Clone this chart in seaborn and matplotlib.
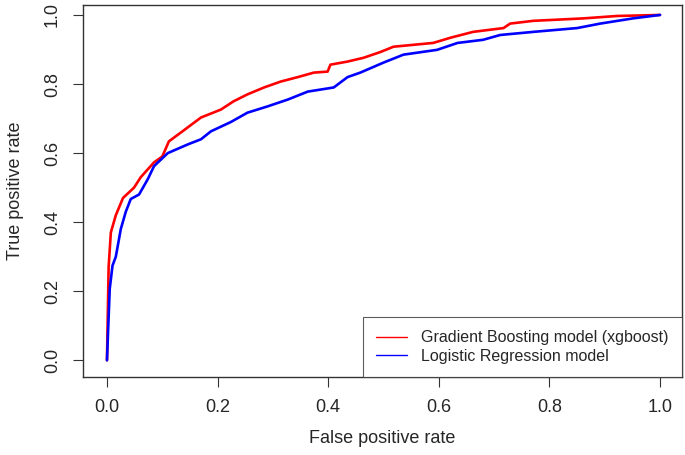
import pandas as pd
import matplotlib
matplotlib.use("Agg")
import matplotlib.pyplot as plt
import seaborn as sns

# ROC points
gb_fpr = [0.0, 0.003, 0.007, 0.016, 0.029, 0.049, 0.061, 0.085, 0.100, 0.112, 0.134, 0.170,
          0.206, 0.229, 0.254, 0.284, 0.314, 0.345, 0.374, 0.399, 0.404, 0.435, 0.464, 0.495,
          0.518, 0.590, 0.621, 0.662, 0.717, 0.729, 0.771, 0.861, 0.922, 1.0]
gb_tpr = [0.0, 0.27, 0.37, 0.42, 0.47, 0.50, 0.53, 0.573, 0.59, 0.634, 0.66, 0.703,
          0.726, 0.75, 0.77, 0.79, 0.807, 0.82, 0.833, 0.836, 0.856, 0.865, 0.876, 0.893,
          0.908, 0.919, 0.934, 0.951, 0.962, 0.975, 0.983, 0.99, 0.997, 1.0]

lr_fpr = [0.0, 0.005, 0.010, 0.016, 0.025, 0.034, 0.043, 0.058, 0.074, 0.085, 0.110, 0.146,
          0.170, 0.188, 0.224, 0.254, 0.290, 0.327, 0.363, 0.410, 0.435, 0.458, 0.500, 0.536,
          0.597, 0.634, 0.680, 0.711, 0.771, 0.850, 0.892, 0.951, 1.0]
lr_tpr = [0.0, 0.207, 0.274, 0.30, 0.38, 0.43, 0.467, 0.48, 0.525, 0.562, 0.60, 0.625,
          0.64, 0.663, 0.69, 0.717, 0.735, 0.755, 0.778, 0.79, 0.82, 0.833, 0.862, 0.885,
          0.899, 0.919, 0.928, 0.942, 0.951, 0.962, 0.975, 0.99, 1.0]

models = ["Gradient Boosting model (xgboost)", "Logistic Regression model"]
ticks = [0.0, 0.2, 0.4, 0.6, 0.8, 1.0]

df = pd.concat([
    pd.DataFrame({"fpr": gb_fpr, "tpr": gb_tpr, "model": models[0]}),
    pd.DataFrame({"fpr": lr_fpr, "tpr": lr_tpr, "model": models[1]}),
])

sns.set_style("white")
plt.rcParams["font.family"] = ["Liberation Sans", "DejaVu Sans"]

fig = plt.figure(figsize=(6.85, 4.55), dpi=100)
ax = fig.add_axes([0.1212, 0.171, 0.8744, 0.818])

sns.lineplot(data=df, x="fpr", y="tpr", hue="model", palette=["red", "blue"],
             estimator=None, sort=False, linewidth=1.9, ax=ax)

ax.set_xlim(-0.0433, 1.0397)
ax.set_ylim(-0.049, 1.0288)
ax.set_xticks(ticks)
ax.set_yticks(ticks)
ax.set_xticklabels([f"{t:.1f}" for t in ticks], fontsize=13)
ax.set_yticklabels([f"{t:.1f}" for t in ticks], fontsize=13, rotation=90, va="center")
ax.tick_params(direction="out", length=7, width=0.8, color="#333333", bottom=True, left=True)
ax.tick_params(axis="x", pad=9)
ax.tick_params(axis="y", pad=9)
for s in ax.spines.values():
    s.set_color("#333333")
    s.set_linewidth(1.0)
ax.set_xlabel("False positive rate", fontsize=13, labelpad=10)
ax.set_ylabel("True positive rate", fontsize=13, labelpad=14)

leg = ax.legend(loc="lower right", borderaxespad=0, fontsize=11.5, frameon=True,
                fancybox=False, handlelength=1.9, handletextpad=0.9, borderpad=0.85,
                labelspacing=0.2)
leg.get_frame().set_edgecolor("#333333")
leg.get_frame().set_linewidth(0.8)
for line in leg.get_lines():
    line.set_linewidth(1.0)

fig.savefig("out.png", dpi=100)
